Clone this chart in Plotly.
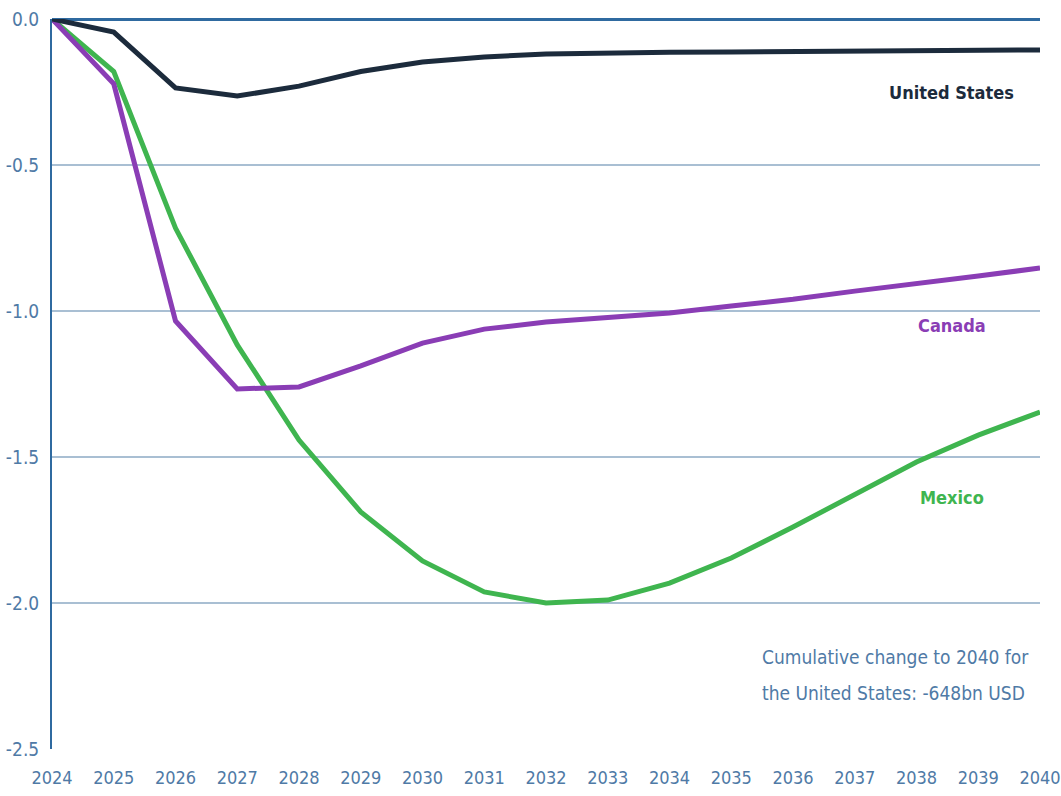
import plotly.graph_objects as go

years = list(range(2024, 2041))
united_states = [0, -0.045, -0.236, -0.264, -0.23, -0.18, -0.147, -0.13, -0.12, -0.116,
                 -0.114, -0.113, -0.112, -0.111, -0.110, -0.108, -0.106]
canada = [0, -0.222, -1.034, -1.267, -1.26, -1.188, -1.11, -1.062, -1.038, -1.024,
          -1.007, -0.983, -0.96, -0.932, -0.904, -0.88, -0.853]
mexico = [0, -0.18, -0.716, -1.116, -1.442, -1.688, -1.856, -1.962, -2.0, -1.99,
          -1.932, -1.846, -1.74, -1.627, -1.517, -1.425, -1.346]
y_ticks = [0.0, -0.5, -1.0, -1.5, -2.0, -2.5]

c_us = "#1c2b3c"
c_ca = "#8a3db5"
c_mx = "#3fb54f"
c_axis = "#2f6aa0"
c_text = "#4f7aa6"
font_fam = "DejaVu Sans Condensed, Liberation Sans Narrow, sans-serif"

fig = go.Figure()
fig.add_trace(go.Scatter(x=years, y=mexico, mode="lines", line=dict(color=c_mx, width=5), name="Mexico"))
fig.add_trace(go.Scatter(x=years, y=canada, mode="lines", line=dict(color=c_ca, width=5), name="Canada"))
fig.add_trace(go.Scatter(x=years, y=united_states, mode="lines", line=dict(color=c_us, width=5), name="United States"))

fig.update_layout(
    width=1061, height=796,
    margin=dict(l=52, r=21, t=19, b=47),
    paper_bgcolor="white", plot_bgcolor="white",
    showlegend=False,
    font=dict(family=font_fam, color=c_text, size=18),
    xaxis=dict(range=[2024, 2040], tickvals=years, ticktext=[str(y) for y in years],
               showgrid=False, zeroline=False, showline=False, ticks="",
               automargin=False,
               tickfont=dict(size=18, color=c_text), ticklabelstandoff=16),
    yaxis=dict(range=[-2.5, 0], tickvals=y_ticks, ticktext=[f"{v:.1f}" for v in y_ticks],
               showgrid=True, gridcolor="#a9bfd3", gridwidth=1.5,
               zeroline=True, zerolinecolor=c_axis, zerolinewidth=3,
               showline=True, linecolor=c_axis, linewidth=2, ticks="",
               automargin=False,
               tickfont=dict(size=19, color=c_text), ticklabelstandoff=7),
)

lab_x = 2038.57
fig.add_annotation(x=lab_x, y=-0.253, text="<b>United States</b>", showarrow=False,
                   font=dict(family=font_fam, size=18, color=c_us), xanchor="center", yanchor="middle")
fig.add_annotation(x=lab_x, y=-1.051, text="<b>Canada</b>", showarrow=False,
                   font=dict(family=font_fam, size=18, color=c_ca), xanchor="center", yanchor="middle")
fig.add_annotation(x=lab_x, y=-1.637, text="<b>Mexico</b>", showarrow=False,
                   font=dict(family=font_fam, size=18, color=c_mx), xanchor="center", yanchor="middle")
fig.add_annotation(x=2035.47, y=-2.185, text="Cumulative change to 2040 for",
                   showarrow=False, align="left", xanchor="left", yanchor="middle",
                   font=dict(family=font_fam, size=19, color=c_text))
fig.add_annotation(x=2035.47, y=-2.308, text="the United States: -648bn USD",
                   showarrow=False, align="left", xanchor="left", yanchor="middle",
                   font=dict(family=font_fam, size=19, color=c_text))

fig.write_html("out.html")
